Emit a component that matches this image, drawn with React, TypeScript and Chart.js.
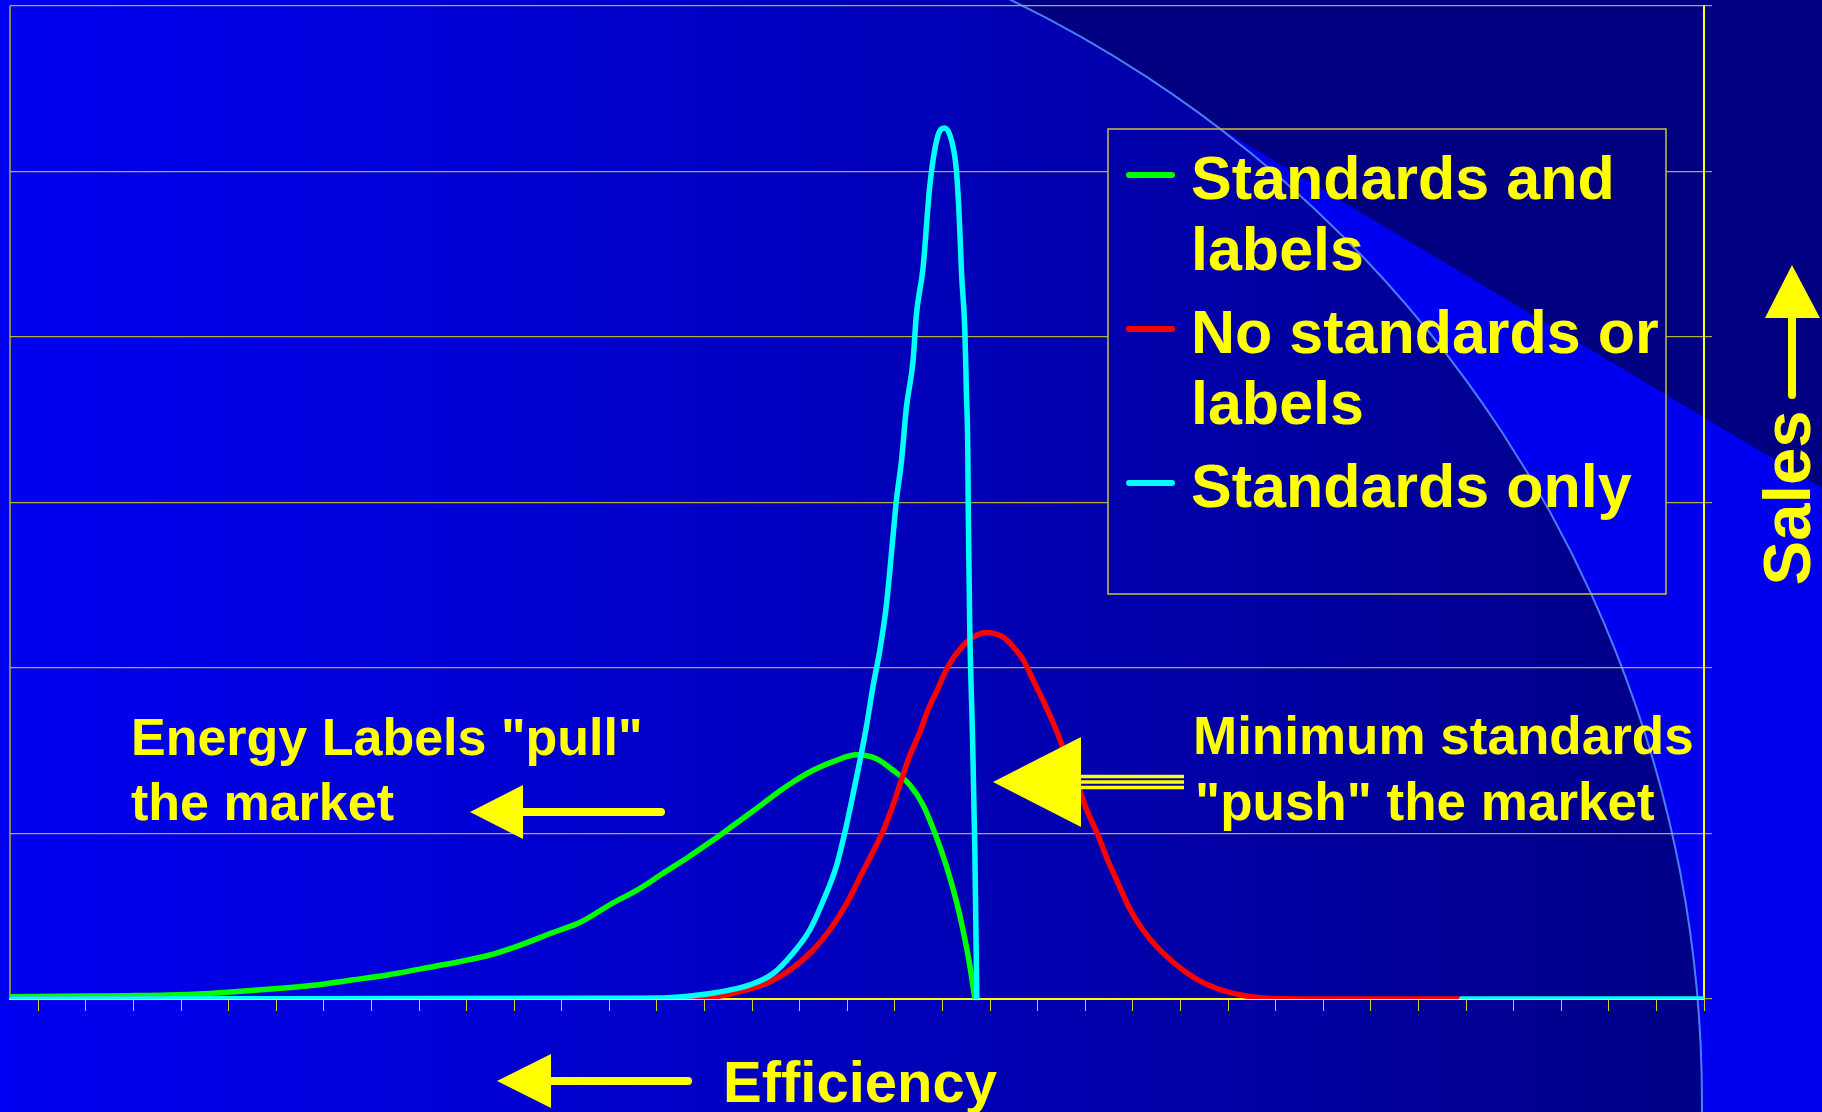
import React, { useEffect, useRef } from 'react';
import { Chart, registerables } from 'chart.js';

Chart.register(...registerables);

const W = 1822;
const H = 1112;

// ---- data (efficiency index on x, relative sales on y) ----
const seriesNames = ['Standards and labels', 'No standards or labels', 'Standards only'];
const seriesColors = ['#00FF00', '#FF0000', '#00FFFF'];

const standardsLabelsX = [-5.95, 10.2, 18.8, 27.3, 35.9, 43.4, 50.9, 58.4, 65.9, 73.4, 80.9, 88.4, 94.9, 101.3, 107.7, 114.1, 120.6, 125.9, 131.3, 136.7, 141.8, 146.0, 150.2, 155.1, 158.6, 162.8, 167.0, 171.9, 176.1, 179.6, 183.1, 185.9, 188.7, 190.8, 192.9, 194.3, 195.7, 196.8];
const standardsLabelsY = [0.14, 0.18, 0.2, 0.24, 0.34, 0.48, 0.65, 0.85, 1.15, 1.45, 1.85, 2.25, 2.66, 3.26, 3.97, 4.67, 5.78, 6.59, 7.6, 8.6, 9.6, 10.48, 11.36, 12.42, 13.11, 13.82, 14.34, 14.76, 14.52, 13.82, 12.94, 11.72, 9.79, 8.04, 5.92, 4.17, 2.07, 0];

const noStandardsX = [-5.95, 139.0, 142.5, 148.1, 153.7, 158.6, 162.8, 166.3, 169.8, 172.6, 175.1, 177.5, 179.6, 181.4, 183.1, 185.2, 187.0, 188.7, 191.2, 194.3, 196.4, 199.2, 202.6, 204.8, 207.0, 209.2, 211.4, 213.6, 215.8, 218.1, 220.3, 222.5, 224.7, 226.9, 229.1, 232.1, 235.0, 238.7, 243.1, 247.5, 252.7, 257.9, 265.2, 299.1];
const noStandardsY = [0, 0.04, 0.14, 0.49, 1.03, 1.89, 2.96, 4.17, 5.75, 7.33, 8.73, 10.15, 11.72, 13.29, 14.7, 16.1, 17.52, 18.55, 20.12, 21.35, 21.87, 22.15, 21.89, 21.29, 20.48, 19.17, 17.87, 16.45, 14.85, 13.23, 11.42, 10.01, 8.4, 6.99, 5.58, 4.17, 3.16, 2.16, 1.25, 0.65, 0.24, 0.04, 0, 0];

const standardsOnlyX = [-5.95, 127.1, 135.5, 142.5, 149.5, 154.4, 158.6, 162.1, 164.9, 167.7, 169.8, 171.6, 172.6, 174.0, 175.4, 176.8, 178.2, 179.5, 180.3, 181.4, 182.4, 183.8, 184.5, 185.9, 187.3, 188.9, 190.5, 191.9, 192.9, 193.5, 194.0, 194.7, 195.0, 195.3, 195.4, 195.7, 196.3, 196.8, 197.2, 250, 299.1, 350];
const standardsOnlyY = [0, 0.04, 0.14, 0.39, 0.85, 1.54, 2.78, 4.17, 5.92, 8.04, 10.48, 12.94, 14.34, 16.45, 18.91, 21.03, 23.81, 27.67, 30.12, 32.58, 35.73, 38.55, 41.35, 44.17, 49.06, 52.04, 52.63, 51.87, 50.11, 47.31, 43.81, 40.3, 36.8, 33.29, 29.79, 22.78, 15.77, 8.73, 0, null, 0, 0];

const xMin = -5.95;
const xMax = 350;
const xStep = 10;
const yMin = 0;
const yMax = 60;
const yStep = 10;

// ---- texts ----
const pullText = ['Energy Labels "pull"', 'the market'];
const pushText = ['Minimum standards', '"push" the market'];
const xTitle = 'Efficiency';
const yTitle = 'Sales';

const YELLOW = '#FFFF00';
const NAVY = '#000080';
const BRIGHT = '#0000F0';
const FONT = '"Liberation Sans", Arial, Helvetica, sans-serif';

const circle = { cx: 475.6, cy: 1103.4, r: 1226.4 };
const legendBox = { x: 1108, y: 129, w: 558, h: 465 };

function paintBackground(ctx: CanvasRenderingContext2D) {
  ctx.save();
  ctx.fillStyle = NAVY;
  ctx.fillRect(0, 0, W, H);
  // bright area below the diagonal
  ctx.beginPath();
  ctx.moveTo(1005, 0);
  ctx.lineTo(W, 488);
  ctx.lineTo(W, H);
  ctx.lineTo(0, H);
  ctx.lineTo(0, 0);
  ctx.closePath();
  ctx.fillStyle = BRIGHT;
  ctx.fill();
  // big circle with horizontal gradient
  const g = ctx.createLinearGradient(0, 0, 1704, 0);
  g.addColorStop(0, '#0000F2');
  g.addColorStop(1, '#000086');
  ctx.beginPath();
  ctx.arc(circle.cx, circle.cy, circle.r, 0, Math.PI * 2);
  ctx.fillStyle = g;
  ctx.fill();
  ctx.lineWidth = 2;
  ctx.strokeStyle = '#4A7CFA';
  ctx.stroke();
  ctx.restore();
}

function setFont(ctx: CanvasRenderingContext2D, size: number) {
  ctx.font = `bold ${size}px ${FONT}`;
  ctx.fillStyle = YELLOW;
  ctx.textBaseline = 'alphabetic';
  ctx.textAlign = 'left';
}

function wrap(ctx: CanvasRenderingContext2D, text: string, maxW: number) {
  const words = text.split(' ');
  const lines: string[] = [];
  let cur = '';
  for (const w of words) {
    const t = cur ? cur + ' ' + w : w;
    if (ctx.measureText(t).width > maxW && cur) {
      lines.push(cur);
      cur = w;
    } else cur = t;
  }
  if (cur) lines.push(cur);
  return lines;
}

function triangleLeft(ctx: CanvasRenderingContext2D, tipX: number, tipY: number, baseX: number, half: number) {
  ctx.beginPath();
  ctx.moveTo(tipX, tipY);
  ctx.lineTo(baseX, tipY - half);
  ctx.lineTo(baseX, tipY + half);
  ctx.closePath();
  ctx.fill();
}

const backgroundPlugin = {
  id: 'slideBackground',
  beforeDraw(chart: any) {
    paintBackground(chart.ctx);
  },
  beforeDatasetsDraw(chart: any) {
    const ctx = chart.ctx as CanvasRenderingContext2D;
    const a = chart.chartArea;
    // legend box hides the grid
    ctx.save();
    ctx.beginPath();
    ctx.rect(legendBox.x, legendBox.y, legendBox.w, legendBox.h);
    ctx.clip();
    paintBackground(ctx);
    ctx.restore();
    // left edge of plot
    ctx.save();
    ctx.strokeStyle = '#B4AE3A';
    ctx.lineWidth = 1.5;
    ctx.beginPath();
    ctx.moveTo(a.left, a.bottom);
    ctx.lineTo(a.left, a.top);
    ctx.stroke();
    ctx.restore();
  },
  afterDraw(chart: any) {
    const ctx = chart.ctx as CanvasRenderingContext2D;
    ctx.save();
    // legend
    ctx.strokeStyle = '#C8C040';
    ctx.lineWidth = 1.5;
    ctx.strokeRect(legendBox.x, legendBox.y, legendBox.w, legendBox.h);
    setFont(ctx, 61);
    let y = 199;
    chart.data.datasets.forEach((ds: any) => {
      const lines = wrap(ctx, ds.label, 480);
      ctx.save();
      ctx.strokeStyle = ds.borderColor;
      ctx.lineWidth = 6;
      ctx.lineCap = 'round';
      ctx.beginPath();
      ctx.moveTo(1129, y - 24);
      ctx.lineTo(1172, y - 24);
      ctx.stroke();
      ctx.restore();
      lines.forEach((l, i) => {
        ctx.fillText(l, 1191, y);
        if (i < lines.length - 1) y += 70.5;
      });
      y += 83.5;
    });

    // annotations
    setFont(ctx, 52);
    ctx.fillText(pullText[0], 131, 755);
    ctx.fillText(pullText[1], 131, 820);
    setFont(ctx, 53);
    ctx.fillText(pushText[0], 1193, 754);
    ctx.fillText(pushText[1], 1195, 820);
    setFont(ctx, 58);
    ctx.fillText(xTitle, 723, 1102);
    ctx.save();
    ctx.translate(1810, 498);
    ctx.rotate(-Math.PI / 2);
    setFont(ctx, 67);
    ctx.textAlign = 'center';
    ctx.fillText(yTitle, 0, 0);
    ctx.restore();

    // arrows
    ctx.fillStyle = YELLOW;
    ctx.strokeStyle = YELLOW;
    ctx.lineCap = 'round';
    ctx.lineWidth = 8;
    // pull arrow
    triangleLeft(ctx, 470, 812, 523, 27);
    ctx.beginPath(); ctx.moveTo(520, 812); ctx.lineTo(661, 812); ctx.stroke();
    // efficiency arrow
    triangleLeft(ctx, 497, 1081, 551, 27);
    ctx.beginPath(); ctx.moveTo(548, 1081); ctx.lineTo(688, 1081); ctx.stroke();
    // sales arrow
    ctx.beginPath();
    ctx.moveTo(1792, 265);
    ctx.lineTo(1820, 318);
    ctx.lineTo(1765, 318);
    ctx.closePath();
    ctx.fill();
    ctx.beginPath(); ctx.moveTo(1792, 315); ctx.lineTo(1792, 395); ctx.stroke();
    // push arrow
    triangleLeft(ctx, 993, 782, 1081, 45);
    ctx.lineCap = 'butt';
    ctx.lineWidth = 3.5;
    [776.5, 782, 787.5].forEach((ly) => {
      ctx.beginPath(); ctx.moveTo(1080, ly); ctx.lineTo(1184, ly); ctx.stroke();
    });
    ctx.restore();
  },
};

function toPoints(xs: number[], ys: (number | null)[]) {
  return xs.map((x, i) => ({ x, y: ys[i] }));
}

export default function App() {
  const ref = useRef<HTMLCanvasElement | null>(null);

  useEffect(() => {
    document.body.style.margin = '0';
    document.body.style.overflow = 'hidden';
    const canvas = ref.current;
    if (!canvas) return;
    const chart = new Chart(canvas, {
      type: 'line',
      data: {
        datasets: [
          { label: seriesNames[0], data: toPoints(standardsLabelsX, standardsLabelsY), borderColor: seriesColors[0], order: 2 },
          { label: seriesNames[1], data: toPoints(noStandardsX, noStandardsY), borderColor: seriesColors[1], order: 1 },
          { label: seriesNames[2], data: toPoints(standardsOnlyX, standardsOnlyY), borderColor: seriesColors[2], order: 0 },
        ] as any,
      },
      options: {
        animation: false,
        responsive: false,
        devicePixelRatio: 1,
        events: [],
        layout: { padding: { left: 10, right: 110, top: 6, bottom: 101 } },
        elements: {
          point: { radius: 0 },
          line: { borderWidth: 5.5, cubicInterpolationMode: 'monotone', fill: false, borderCapStyle: 'round', borderJoinStyle: 'round' },
        },
        spanGaps: false,
        plugins: { legend: { display: false }, tooltip: { enabled: false }, title: { display: false } },
        scales: {
          x: {
            type: 'linear',
            min: xMin,
            max: xMax,
            ticks: { display: false, stepSize: xStep, includeBounds: false, autoSkip: false },
            grid: { drawOnChartArea: false, drawTicks: true, tickLength: 12, color: '#D8D020', tickColor: '#D8D020', lineWidth: 1 },
            border: { display: true, color: YELLOW, width: 2 },
          },
          y: {
            type: 'linear',
            position: 'right',
            min: yMin,
            max: yMax,
            ticks: { display: false, stepSize: yStep, autoSkip: false },
            grid: { color: '#B4AE3A', tickColor: '#B4AE3A', lineWidth: 1.2, tickLength: 8, drawTicks: true },
            border: { display: true, color: YELLOW, width: 2 },
          },
        },
      } as any,
      plugins: [backgroundPlugin],
    });
    return () => chart.destroy();
  }, []);

  return (
    <div style={{ width: W, height: H, position: 'relative', overflow: 'hidden' }}>
      <canvas ref={ref} width={W} height={H} style={{ display: 'block', width: W, height: H }} />
    </div>
  );
}
